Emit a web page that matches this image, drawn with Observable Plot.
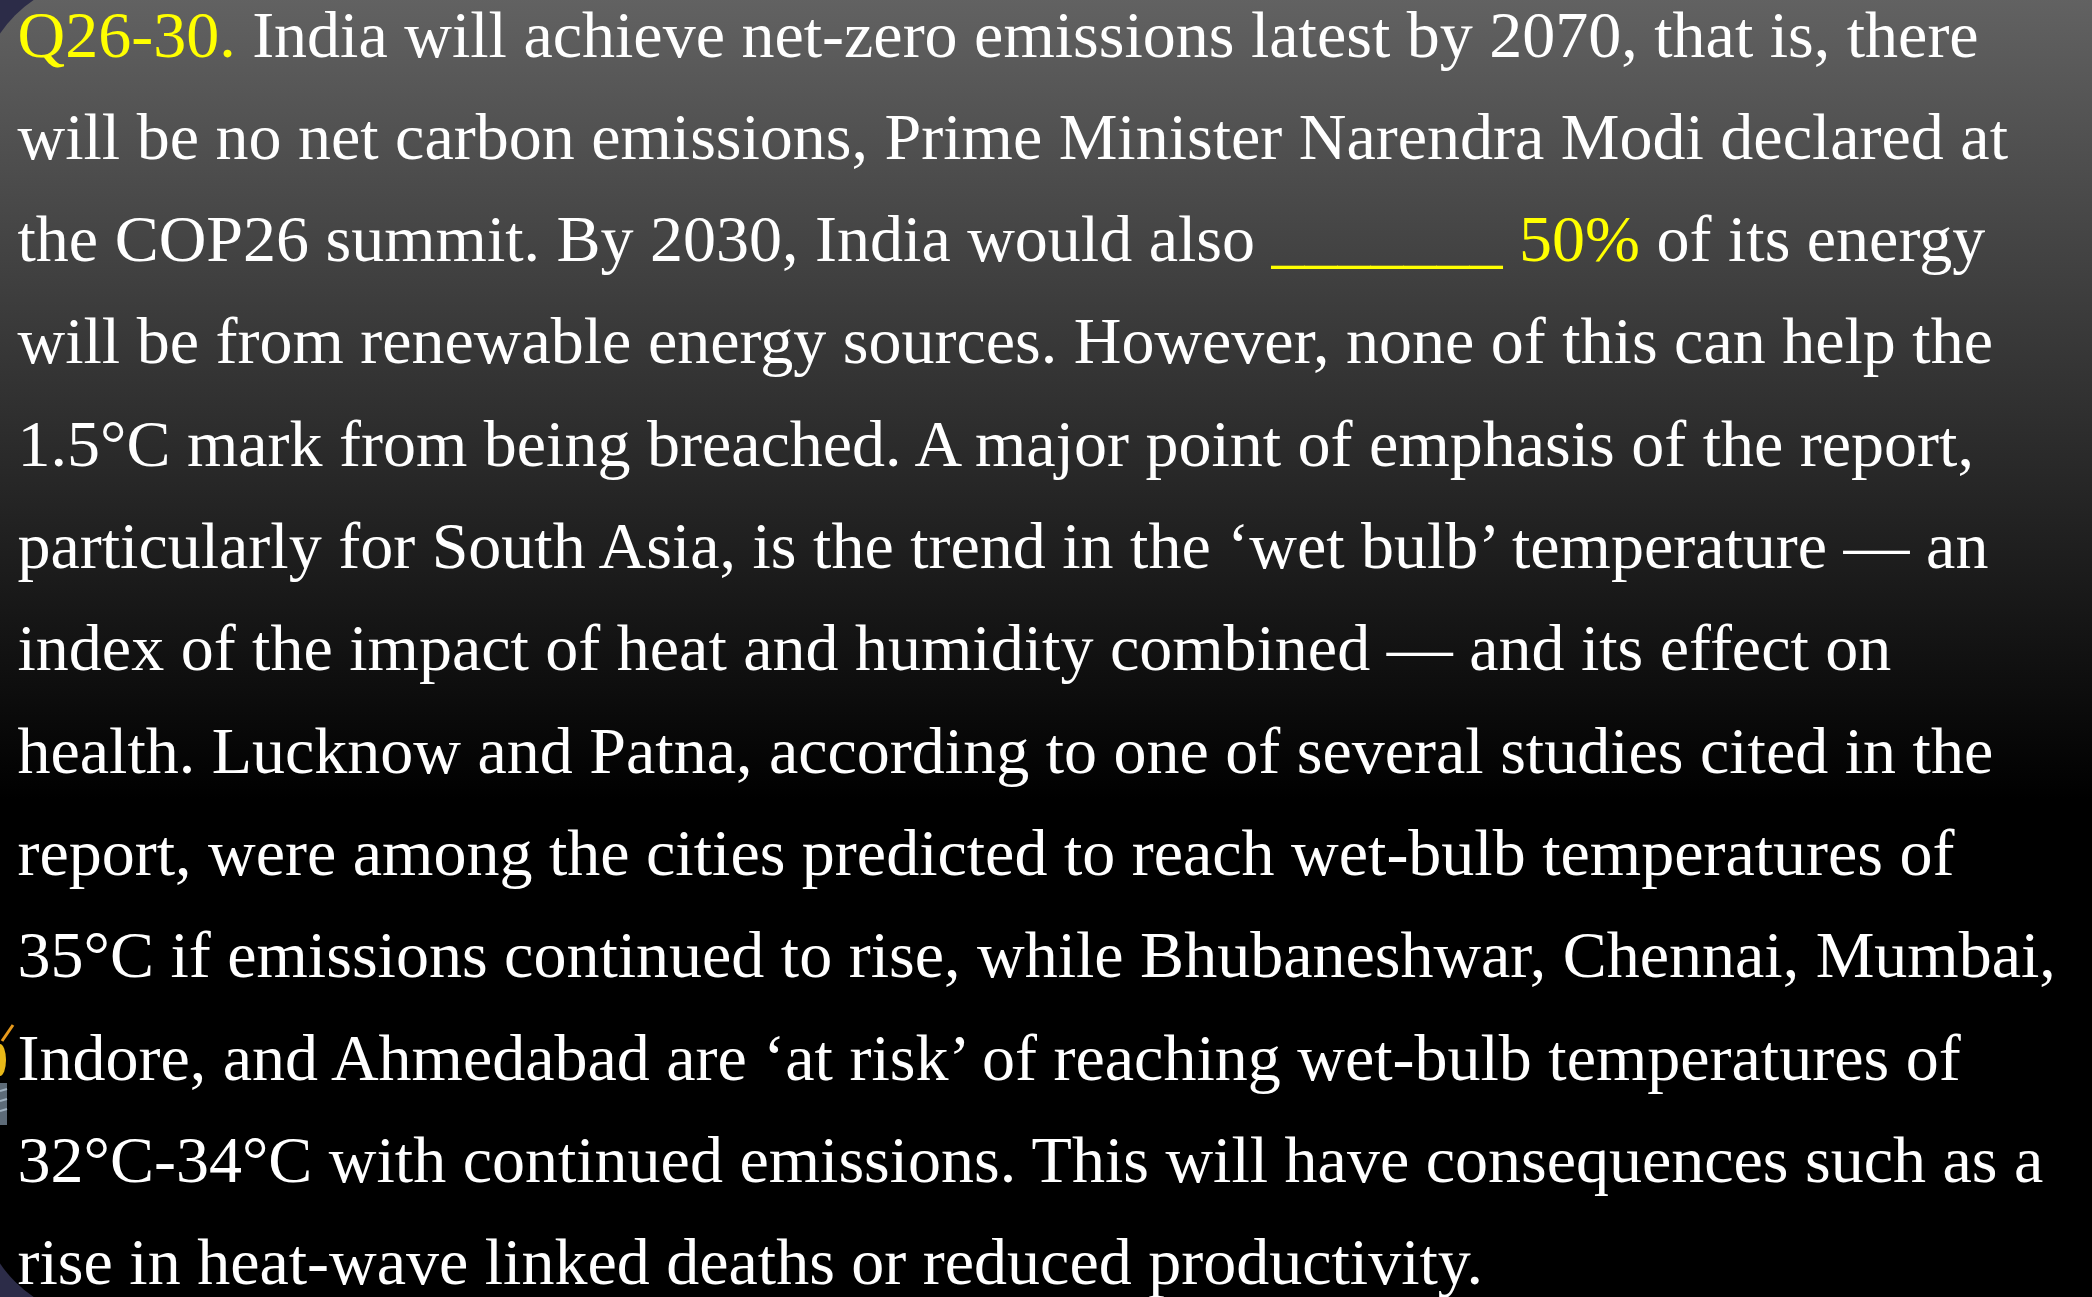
<!DOCTYPE html>
<html>
<head>
<meta charset="utf-8">
<script src="https://cdn.jsdelivr.net/npm/d3@7"></script>
<script src="https://cdn.jsdelivr.net/npm/@observablehq/plot@0.6"></script>
<style>
  html, body { margin: 0; padding: 0; width: 2092px; height: 1297px; overflow: hidden; background: #2c2c48; }
  #panel { position: absolute; left: -20px; top: -20px; width: 2200px; height: 1337px; border-radius: 120px 120px 0 120px;
           background: linear-gradient(to bottom, #646464 0px, #000000 820px); }
  #panel2 { position: absolute; left: 1900px; top: 1100px; width: 300px; height: 300px; background: #000; }
  #chart { position: absolute; left: 0; top: 0; }
  #icon { position: absolute; left: 0; top: 1015px; }
</style>
</head>
<body>
<div id="panel"></div>
<div id="panel2"></div>
<svg id="icon" width="20" height="120" viewBox="0 0 20 120">
  <line x1="13" y1="10" x2="2" y2="26" stroke="#e89a1c" stroke-width="3"/>
  <ellipse cx="0" cy="45" rx="6" ry="16" fill="#e8b818"/>
  <rect x="0" y="68" width="7" height="42" fill="#5d6b78"/>
  <line x1="0" y1="76" x2="7" y2="74" stroke="#9fb0bf" stroke-width="2"/>
  <line x1="0" y1="86" x2="7" y2="84" stroke="#9fb0bf" stroke-width="2"/>
  <line x1="0" y1="96" x2="7" y2="94" stroke="#9fb0bf" stroke-width="2"/>
</svg>
<div id="chart"></div>
<script>
// Text lines of the slide
const lines = [
  "Q26-30. India will achieve net-zero emissions latest by 2070, that is, there",
  "will be no net carbon emissions, Prime Minister Narendra Modi declared at",
  "the COP26 summit. By 2030, India would also _______ 50% of its energy",
  "will be from renewable energy sources. However, none of this can help the",
  "1.5°C mark from being breached. A major point of emphasis of the report,",
  "particularly for South Asia, is the trend in the ‘wet bulb’ temperature — an",
  "index of the impact of heat and humidity combined — and its effect on",
  "health. Lucknow and Patna, according to one of several studies cited in the",
  "report, were among the cities predicted to reach wet-bulb temperatures of",
  "35°C if emissions continued to rise, while Bhubaneshwar, Chennai, Mumbai,",
  "Indore, and Ahmedabad are ‘at risk’ of reaching wet-bulb temperatures of",
  "32°C-34°C with continued emissions. This will have consequences such as a",
  "rise in heat-wave linked deaths or reduced productivity."
];
// Highlighted (yellow) fragments
const highlightLines = [0, 2];
const highlightTexts = ["Q26-30.", "_______ 50%"];

const textColor = "#ffffff";
const highlightColor = "#ffff00";
const fontSize = 66;
const fontFamily = "'Liberation Serif', 'Times New Roman', Times, serif";

const canvas = document.createElement("canvas");
const ctx = canvas.getContext("2d");
ctx.font = `${fontSize}px ${fontFamily}`;
const measure = s => ctx.measureText(s).width;

// Build segments with measured start offsets
const segments = [];
lines.forEach((line, i) => {
  const hi = highlightLines.indexOf(i);
  const parts = [];
  if (hi >= 0) {
    const h = highlightTexts[hi];
    const s = line.indexOf(h);
    if (s > 0) parts.push({start: 0, text: line.slice(0, s), color: textColor});
    parts.push({start: s, text: h, color: highlightColor});
    if (s + h.length < line.length) parts.push({start: s + h.length, text: line.slice(s + h.length), color: textColor});
  } else {
    parts.push({start: 0, text: line, color: textColor});
  }
  for (const p of parts) {
    const lead = p.text.length - p.text.trimStart().length;
    segments.push({
      line: i,
      offset: measure(line.slice(0, p.start + lead)),
      text: p.text.trim(),
      color: p.color
    });
  }
});

const leftEdge = 17;
const chart = Plot.plot({
  width: 2092,
  height: 1297,
  margin: 0,
  style: {background: "transparent", overflow: "visible"},
  x: {type: "identity"},
  y: {type: "linear", domain: [0, 12], range: [56, 56 + 12 * 102.3], axis: null},
  marks: [
    Plot.text(segments, {
      x: d => leftEdge + d.offset,
      y: "line",
      text: "text",
      fill: "color",
      textAnchor: "start",
      lineAnchor: "bottom",
      fontSize: fontSize,
      fontFamily: fontFamily
    })
  ]
});
document.getElementById("chart").appendChild(chart);
</script>
</body>
</html>
